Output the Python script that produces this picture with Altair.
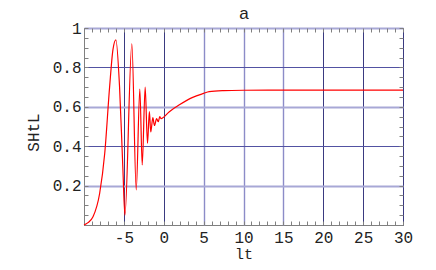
import altair as alt
import pandas as pd

# curve
t = [-10, -9.5, -8.87, -8.04, -7.4, -6.79, -6.37, -6.0, -5.54, -5.12, -4.87,
     -4.0, -3.45, -3.0, -2.7, -2.33, -2.04, -1.8, -1.63, -1.37, -1.16, -0.9,
     -0.68, -0.5, -0.35, 0.7, 1.96, 3.63, 5.0, 5.7, 7.5, 10, 15, 20, 25, 30]
s = [0.0, 0.012, 0.042, 0.16, 0.364, 0.70, 0.89, 0.94, 0.70, 0.28, 0.05,
     0.92, 0.178, 0.69, 0.305, 0.70, 0.415, 0.575, 0.472, 0.545, 0.505, 0.54,
     0.524, 0.55, 0.54, 0.575, 0.61, 0.648, 0.668, 0.677, 0.682, 0.684, 0.685, 0.685, 0.685, 0.685]

x_ticks = [-5, 0, 5, 10, 15, 20, 25, 30]
y_ticks = [0.2, 0.4, 0.6, 0.8, 1]
x_minor = list(range(-10, 31))
y_minor = [i / 20 for i in range(21)]
chart_title = "a"

df = pd.DataFrame({"t": t, "s": s})

xscale = alt.Scale(domain=[-10, 30], nice=False, zero=False)
yscale = alt.Scale(domain=[0, 1], nice=False)

MONO = "Liberation Mono"
FRAME = "#808080"

x_dark = "datum.value <= 0 || datum.value >= 20"
y_dark = "abs(datum.value - 0.4) < 0.01 || abs(datum.value - 0.8) < 0.01"


def layer(xaxis, yaxis, visible):
    return alt.Chart(df).mark_line(
        color="#ff0000", strokeWidth=1.2, interpolate="monotone",
        opacity=1 if visible else 0
    ).encode(
        x=alt.X("t:Q", scale=xscale, axis=xaxis),
        y=alt.Y("s:Q", scale=yscale, axis=yaxis),
    )


main = layer(
    alt.Axis(values=x_ticks, title="lt", grid=True,
             gridColor={"condition": {"test": x_dark, "value": "#3a3a80"}, "value": "#8c8cc8"},
             gridWidth={"condition": {"test": x_dark, "value": 1}, "value": 1.4},
             ticks=False, domain=False, labelFont=MONO, labelFontSize=16,
             labelColor="#222", labelPadding=4, labelExpr="'' + datum.value",
             labelFlush=False, labelOverlap=False,
             titleFont=MONO, titleFontSize=15, titleFontWeight="normal",
             titleColor="#222", titleY=33, titleBaseline="alphabetic"),
    alt.Axis(values=y_ticks, title="SHtL", grid=True,
             gridColor={"condition": {"test": y_dark, "value": "#5252a2"}, "value": "#a8a8d6"},
             gridWidth={"condition": {"test": y_dark, "value": 1}, "value": 2},
             ticks=False, domain=False, labelFont=MONO, labelFontSize=16,
             labelColor="#222", labelPadding=3, labelFlush=False, labelOverlap=False,
             labelExpr="datum.value == 1 ? '1' : format(datum.value, '.1f')",
             titleFont=MONO, titleFontSize=16, titleFontWeight="normal",
             titleColor="#222", titleX=-46, titleY=104, titleAngle=-90,
             titleAlign="center", titleBaseline="alphabetic"),
    True,
)

minor_bl = layer(
    alt.Axis(values=x_minor, title=None, orient="bottom", offset=-4, tickSize=4,
             tickColor=FRAME, labels=False, grid=False, domain=False),
    alt.Axis(values=y_minor, title=None, orient="left", offset=-4, tickSize=4,
             tickColor=FRAME, labels=False, grid=False, domain=False),
    False,
)

# the top axis also carries the chart's title text "a"
minor_tr = layer(
    alt.Axis(values=x_minor, title=chart_title, orient="top", offset=-4, tickSize=4,
             tickColor=FRAME, labels=False, grid=False, domain=False,
             titleFont="Liberation Sans", titleFontSize=17, titleFontWeight="normal",
             titleColor="#222", titleY=-14, titleBaseline="alphabetic"),
    alt.Axis(values=y_minor, title=None, orient="right", offset=-4, tickSize=4,
             tickColor=FRAME, labels=False, grid=False, domain=False),
    False,
)

chart = alt.layer(main, minor_bl, minor_tr).resolve_axis(
    x="independent", y="independent"
).properties(
    width=319, height=197,
    autosize=alt.AutoSizeParams(type="none"),
    padding={"left": 76, "top": 20, "right": 25, "bottom": 37},
).configure_view(stroke=FRAME, strokeWidth=1)

chart.save("out.html", embed_options={"renderer": "svg", "actions": False})
